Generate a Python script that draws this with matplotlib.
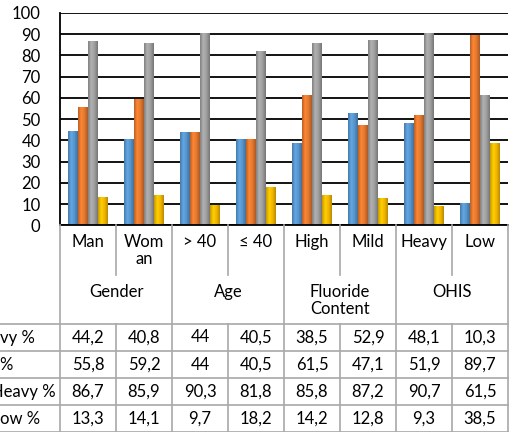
import numpy as np
import matplotlib.pyplot as plt
from matplotlib.colors import LinearSegmentedColormap, to_rgb

plt.rcParams['font.family'] = ['Lato', 'DejaVu Sans']

# Datos
categorias = ['Man', 'Wom\nan', '> 40', '≤ 40', 'High', 'Mild', 'Heavy', 'Low']
grupos = ['Gender', 'Age', 'Fluoride\nContent', 'OHIS']
etiquetas = ['vy %', '%', 'Heavy %', 'ow %']   # recortadas en la imagen original
azul = [44.2, 40.8, 44, 40.5, 38.5, 52.9, 48.1, 10.3]
naranja = [55.8, 59.2, 44, 40.5, 61.5, 47.1, 51.9, 89.7]
gris = [86.7, 85.9, 90.3, 81.8, 85.8, 87.2, 90.7, 61.5]
amarillo = [13.3, 14.1, 9.7, 18.2, 14.2, 12.8, 9.3, 38.5]

series = [azul, naranja, gris, amarillo]
colores = ['#5B9BD5', '#ED7D31', '#A5A5A5', '#FFC000']

# Geometria (pixeles de la imagen 515x432)
W, H = 515, 432
x0, x1 = 60, 508
y_top, y_cero = 12.75, 225.3
fs = 12
fig = plt.figure(figsize=(W / 100, H / 100), dpi=100)

ax = fig.add_axes([x0 / W, 1 - y_cero / H, (x1 - x0) / W, (y_cero - y_top) / H])
n = len(categorias)
x = np.arange(n) + 0.5
ancho = 10 / 56

for k, (vals, c) in enumerate(zip(series, colores)):
    barras = ax.bar(x + (k - 1.5) * ancho, vals, ancho, color=c, zorder=3)
    base = np.array(to_rgb(c))
    cmap = LinearSegmentedColormap.from_list(
        'g', [base * 0.78, np.minimum(base * 1.08, 1), base * 0.95, base * 0.72])
    grad = np.linspace(0, 1, 50).reshape(1, -1)
    for b in barras:
        im = ax.imshow(grad, cmap=cmap, aspect='auto', zorder=4,
                       extent=[b.get_x(), b.get_x() + b.get_width(), 0, b.get_height()])
        im.set_clip_path(b)

ax.set_xlim(0, n)
ax.set_ylim(0, 100)
ax.set_yticks(np.arange(0, 101, 10))
ax.set_xticks([])
ax.tick_params(axis='y', length=0, pad=14, labelsize=fs)
ax.grid(axis='y', color='black', linewidth=1.3, zorder=0)
ax.set_axisbelow(True)
for s in ['right', 'top']:
    ax.spines[s].set_visible(False)
ax.spines['left'].set_linewidth(1.3)
ax.spines['bottom'].set_linewidth(1.3)
ax.spines['bottom'].set_zorder(5)

# Tabla de datos
tax = fig.add_axes([x0 / W, 0, (x1 - x0) / W, 1 - y_cero / H])
tax.set_xlim(0, n)
tax.set_ylim(H, y_cero)
tax.axis('off')
gris_linea = '#A8A8A8'
y_head = 324
alto = 27
filas = [y_head + i * alto for i in range(5)]
izq = -x0 / 56

for i in range(n + 1):
    if i % 2 == 0:
        tax.plot([i, i], [y_cero, H], color=gris_linea, lw=1.2, clip_on=False)
    else:
        tax.plot([i, i], [y_cero, 275], color=gris_linea, lw=1.2, clip_on=False)
        tax.plot([i, i], [y_head, H], color=gris_linea, lw=1.2, clip_on=False)
for yf in filas:
    tax.plot([izq, n], [yf, yf], color=gris_linea, lw=1.2, clip_on=False)

for i, cat in enumerate(categorias):
    tax.text(i + 0.5, 234, cat, ha='center', va='top', fontsize=fs,
             linespacing=1.1)
for j, g in enumerate(grupos):
    tax.text(2 * j + 1, 284, g, ha='center', va='top', fontsize=fs,
             linespacing=1.1)

for r, vals in enumerate(series):
    yc = filas[r] + alto / 2
    for i, v in enumerate(vals):
        tax.text(i + 0.5, yc, f'{v:g}'.replace('.', ','), ha='center', va='center',
                 fontsize=fs)

fin_etiqueta = [35, 13, 56, 40]
for r, et in enumerate(etiquetas):
    yc = filas[r] + alto / 2
    tax.text((fin_etiqueta[r] - x0) / 56, yc, et, ha='right', va='center',
             fontsize=fs, clip_on=False)

plt.savefig('out.png', dpi=100)
